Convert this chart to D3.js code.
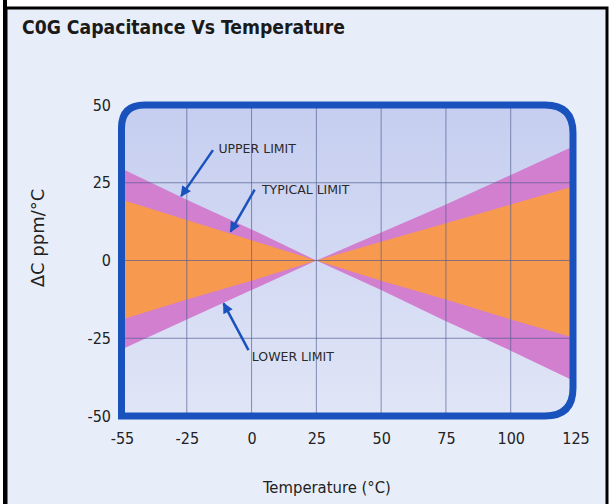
<!doctype html>
<html>
<head>
<meta charset="UTF-8">
<title>C0G Capacitance Vs Temperature</title>
<style>
  body { margin: 0; background: #ffffff; }
  #chart { font-size: 0; }
  text { font-family: "DejaVu Sans Condensed", "DejaVu Sans", sans-serif; font-stretch: condensed; }
</style>
</head>
<body>
<div id="chart"></div>
<script src="https://cdn.jsdelivr.net/npm/d3@7/dist/d3.min.js"></script>
<script>
var w = 612;
var h = 504;

// chart values
var temps = [-55, -25, 0, 25, 50, 75, 100, 125];
var upperLimit = [29.5, 19.5, 10, 0, 9, 18, 27.5, 37];
var typicalUpper = [19.5, 13, 6.5, 0, 6, 12, 18, 24];
var typicalLower = [-19, -12.5, -6.5, 0, -6.5, -12.5, -19, -25];
var lowerLimit = [-28.5, -19, -9.5, 0, -9.5, -19.5, -29, -39];
var yTicks = [-50, -25, 0, 25, 50];

// annotations in data units: label, text anchor point, arrow tail, arrow tip
var noteLabels = ["UPPER LIMIT", "TYPICAL LIMIT", "LOWER LIMIT"];
var noteText = [[-12.8, 34.6], [4.0, 21.4], [0.1, -32.3]];
var noteTail = [[-14.9, 35.5], [1.2, 22.8], [-1.2, -28.8]];
var noteTip = [[-27.6, 20.7], [-8.1, 9.3], [-10.8, -13.8]];

var plotLeft = 122, plotRight = 575.5, plotTop = 105, plotBottom = 416;

// the axis is evenly spaced per label, so -55..-25 is as wide as 25 degrees
var xScale = d3.scaleLinear()
    .domain([-55, -25, 125])
    .range([plotLeft, plotLeft + (plotRight - plotLeft) / 7, plotRight]);
var yScale = d3.scaleLinear()
    .domain([-50, 50])
    .range([plotBottom, plotTop]);

var svg = d3.select("#chart")
    .append("svg")
    .attr("width", w)
    .attr("height", h);

var defs = svg.append("defs");
var grad = defs.append("linearGradient")
    .attr("id", "plotbg")
    .attr("x1", 0).attr("y1", 0).attr("x2", 0).attr("y2", 1);
grad.append("stop").attr("offset", "0%").attr("stop-color", "#c6cef0");
grad.append("stop").attr("offset", "100%").attr("stop-color", "#e0e5f6");

// panel with black frame
svg.append("rect")
    .attr("x", 6).attr("y", 8)
    .attr("width", 601).attr("height", 520)
    .attr("fill", "#e8eef9")
    .attr("stroke", "#000")
    .attr("stroke-width", 3);
svg.append("line")
    .attr("x1", 5).attr("x2", 5).attr("y1", 0).attr("y2", h)
    .attr("stroke", "#000").attr("stroke-width", 4);

svg.append("text")
    .attr("x", 22).attr("y", 34)
    .attr("font-weight", "bold")
    .attr("fill", "#1a1a1a")
    .style("font-size", "19.2px")
    .text("C0G Capacitance Vs Temperature");

// rounded frame path: bottom-left corner square, the others rounded
function framePath(x0, y0, x1, y1) {
  var rTL = 23, rTR = 28, rBR = 28;
  return "M" + (x0 + rTL) + "," + y0 +
    "L" + (x1 - rTR) + "," + y0 +
    "Q" + x1 + "," + y0 + " " + x1 + "," + (y0 + rTR) +
    "L" + x1 + "," + (y1 - rBR) +
    "Q" + x1 + "," + y1 + " " + (x1 - rBR) + "," + y1 +
    "L" + x0 + "," + y1 +
    "L" + x0 + "," + (y0 + rTL) +
    "Q" + x0 + "," + y0 + " " + (x0 + rTL) + "," + y0 +
    "Z";
}
var fx0 = 121.5, fx1 = 573, fy0 = 105, fy1 = 416;

defs.append("clipPath").attr("id", "plotclip")
    .append("path").attr("d", framePath(fx0, fy0, fx1, fy1));

svg.append("path")
    .attr("d", framePath(fx0, fy0, fx1, fy1))
    .attr("fill", "url(#plotbg)");

var plot = svg.append("g").attr("clip-path", "url(#plotclip)");

var outerBand = temps.map(function (t, i) { return {t: t, hi: upperLimit[i], lo: lowerLimit[i]}; });
var typicalBand = temps.map(function (t, i) { return {t: t, hi: typicalUpper[i], lo: typicalLower[i]}; });

var area = d3.area()
    .x(function (d) { return xScale(d.t); })
    .y0(function (d) { return yScale(d.lo); })
    .y1(function (d) { return yScale(d.hi); });

plot.append("path").datum(outerBand)
    .attr("d", area)
    .attr("fill", "#d27fd0");
plot.append("path").datum(typicalBand)
    .attr("d", area)
    .attr("fill", "#f7994f");

// grid over the bands
plot.selectAll(".vgrid")
    .data(temps.slice(1, -1))
    .enter()
    .append("line")
    .attr("x1", function (d) { return xScale(d); })
    .attr("x2", function (d) { return xScale(d); })
    .attr("y1", fy0).attr("y2", fy1)
    .attr("stroke", "#4b5b8f")
    .attr("stroke-opacity", 0.65)
    .attr("stroke-width", 1);
plot.selectAll(".hgrid")
    .data(yTicks.slice(1, -1))
    .enter()
    .append("line")
    .attr("x1", fx0).attr("x2", fx1)
    .attr("y1", function (d) { return yScale(d); })
    .attr("y2", function (d) { return yScale(d); })
    .attr("stroke", "#4b5b8f")
    .attr("stroke-opacity", 0.65)
    .attr("stroke-width", 1);

svg.append("path")
    .attr("d", framePath(fx0, fy0, fx1, fy1))
    .attr("fill", "none")
    .attr("stroke", "#1a52bd")
    .attr("stroke-width", 7)
    .attr("stroke-linejoin", "miter");

// axes with the library, domain line and ticks hidden
var plain = function (d) { return String(d); };
var xAxis = svg.append("g")
    .attr("transform", "translate(0," + 433 + ")")
    .call(d3.axisBottom(xScale).tickValues(temps).tickSize(0).tickPadding(0).tickFormat(plain));
xAxis.select(".domain").remove();
xAxis.selectAll("text")
    .attr("dy", "0.71em")
    .attr("fill", "#222")
    .style("font-size", "16px")
    .style("font-family", "'DejaVu Sans Condensed', 'DejaVu Sans', sans-serif");

var yAxis = svg.append("g")
    .attr("transform", "translate(111,0)")
    .call(d3.axisLeft(yScale).tickValues(yTicks).tickSize(0).tickPadding(0).tickFormat(plain));
yAxis.select(".domain").remove();
yAxis.selectAll("text")
    .attr("fill", "#222")
    .style("font-size", "16px")
    .style("font-family", "'DejaVu Sans Condensed', 'DejaVu Sans', sans-serif");

svg.append("text")
    .attr("x", 327).attr("y", 493)
    .attr("text-anchor", "middle")
    .attr("fill", "#222")
    .style("font-size", "16.5px")
    .text("Temperature (\u00B0C)");

svg.append("text")
    .attr("transform", "translate(44,238) rotate(-90)")
    .attr("text-anchor", "middle")
    .attr("fill", "#222")
    .style("font-size", "18px")
    .style("font-stretch", "normal")
    .style("font-family", "'DejaVu Sans', sans-serif")
    .text("\u0394C ppm/\u00B0C");

// arrows
defs.append("marker")
    .attr("id", "head")
    .attr("viewBox", "0 0 10 10")
    .attr("refX", 9).attr("refY", 5)
    .attr("markerWidth", 6).attr("markerHeight", 4.2)
    .attr("markerUnits", "strokeWidth")
    .attr("orient", "auto")
    .append("path")
    .attr("d", "M0,0L10,5L0,10Z")
    .attr("fill", "#1a52bd");

svg.selectAll(".arrow")
    .data(noteLabels)
    .enter()
    .append("line")
    .attr("x1", function (d, i) { return xScale(noteTail[i][0]); })
    .attr("y1", function (d, i) { return yScale(noteTail[i][1]); })
    .attr("x2", function (d, i) { return xScale(noteTip[i][0]); })
    .attr("y2", function (d, i) { return yScale(noteTip[i][1]); })
    .attr("stroke", "#1a52bd")
    .attr("stroke-width", 2.5)
    .attr("marker-end", "url(#head)");

svg.selectAll(".note")
    .data(noteLabels)
    .enter()
    .append("text")
    .attr("x", function (d, i) { return xScale(noteText[i][0]); })
    .attr("y", function (d, i) { return yScale(noteText[i][1]); })
    .attr("fill", "#2a2a2a")
    .style("font-size", "12.5px")
    .style("font-stretch", "normal")
    .style("font-family", "'DejaVu Sans', sans-serif")
    .text(function (d) { return d; });
</script>
</body>
</html>
